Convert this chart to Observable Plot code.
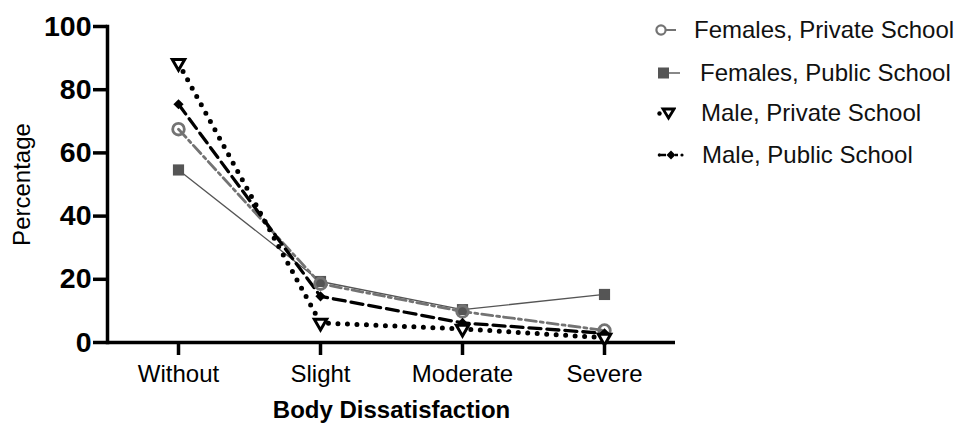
<!DOCTYPE html>
<html>
<head>
<meta charset="utf-8">
<script src="https://cdn.jsdelivr.net/npm/d3@7"></script>
<script src="https://cdn.jsdelivr.net/npm/@observablehq/plot@0.6"></script>
<style>
  html, body { margin: 0; padding: 0; background: #fff; overflow: hidden; }
  #wrap { position: relative; width: 956px; height: 428px; font-family: "Liberation Sans", Arial, sans-serif; }
  #legend { position: absolute; left: 0; top: 0; }
  .row { position: absolute; left: 654px; display: flex; align-items: center; white-space: nowrap; font-size: 24px; color: #111; }
  .row svg { flex: none; }
</style>
</head>
<body>
<div id="wrap"><div id="chart"></div><div id="legend"></div></div>
<script>
const categories = ["Without", "Slight", "Moderate", "Severe"];
const femalesPrivate = [67.5, 18.6, 9.8, 3.8];
const femalesPublic = [54.6, 19.3, 10.4, 15.2];
const malePrivate = [88.4, 6.2, 4.3, 1.5];
const malePublic = [75.4, 14.6, 6.2, 2.9];
const seriesNames = ["Females, Private School", "Females, Public School", "Male, Private School", "Male, Public School"];
const yTicks = [0, 20, 40, 60, 80, 100];

const toRows = (vals) => categories.map((c, i) => ({cat: c, v: vals[i]}));
const fPriv = toRows(femalesPrivate);
const fPub = toRows(femalesPublic);
const mPriv = toRows(malePrivate);
const mPub = toRows(malePublic);

const font = "Liberation Sans, Arial, sans-serif";

const chart = Plot.plot({
  width: 956,
  height: 428,
  marginLeft: 107,
  marginRight: 281,
  marginTop: 26,
  marginBottom: 86,
  style: {fontFamily: font, background: "white", color: "black"},
  x: {type: "point", domain: categories, padding: 0.5},
  y: {domain: [0, 100]},
  marks: [
    Plot.axisY({ticks: yTicks, tickSize: 14, tickPadding: 2, fontSize: 28.5, fontWeight: "bold", strokeWidth: 3.5, label: null}),
    Plot.axisX({tickSize: 13, tickPadding: 9, fontSize: 24, strokeWidth: 3.5, label: null}),
    Plot.ruleY([0], {strokeWidth: 3.5}),
    Plot.frame({anchor: "left", strokeWidth: 3.5}),
    Plot.text(["Percentage"], {frameAnchor: "left", rotate: -90, textAnchor: "middle", dx: -85, fontSize: 24, fill: "black"}),
    Plot.text(["Body Dissatisfaction"], {frameAnchor: "bottom", textAnchor: "middle", dy: 75, fontSize: 24, fontWeight: "bold", fill: "black"}),
    // Females, Public School
    Plot.line(fPub, {x: "cat", y: "v", stroke: "#555", strokeWidth: 1.3}),
    // Females, Private School
    Plot.line(fPriv, {x: "cat", y: "v", stroke: "#737373", strokeWidth: 2.8, strokeDasharray: "11,4,3,4"}),
    // Male, Public School
    Plot.line(mPub, {x: "cat", y: "v", stroke: "black", strokeWidth: 3.3, strokeDasharray: "12,6"}),
    // Male, Private School
    Plot.line(mPriv, {x: "cat", y: "v", stroke: "black", strokeWidth: 5, strokeDasharray: "0,9.5", strokeLinecap: "round"}),
    Plot.dot(fPub, {x: "cat", y: "v", symbol: "square", r: 6.3, fill: "#555", stroke: "none"}),
    Plot.dot(fPriv, {x: "cat", y: "v", symbol: "circle", r: 5.8, fill: "none", stroke: "#737373", strokeWidth: 2.8}),
    Plot.dot(mPub, {x: "cat", y: "v", symbol: "diamond2", r: 4.6, fill: "black", stroke: "none"}),
    Plot.dot(mPriv, {x: "cat", y: "v", symbol: "triangle", rotate: 180, r: 4.6, fill: "white", stroke: "black", strokeWidth: 3})
  ]
});
document.getElementById("chart").appendChild(chart);

// Legend (HTML rows with small swatches)
const legendSpecs = [
  {name: seriesNames[0], top: 30, gap: 16, svg: `<svg width="24" height="20"><line x1="4" y1="10" x2="22" y2="10" stroke="#737373" stroke-width="2"/><circle cx="7" cy="10" r="4.6" fill="white" stroke="#737373" stroke-width="2.2"/></svg>`},
  {name: seriesNames[1], top: 73, gap: 20, svg: `<svg width="26" height="20"><line x1="10" y1="10" x2="26" y2="10" stroke="#555" stroke-width="1.4"/><rect x="4" y="4.5" width="11" height="11" fill="#555"/></svg>`},
  {name: seriesNames[2], top: 113, gap: 25, svg: `<svg width="22" height="20"><circle cx="5.5" cy="10.5" r="2.2" fill="black"/><path d="M9,6 L20,6 L14.5,15 Z" fill="white" stroke="black" stroke-width="2.8" stroke-linejoin="miter"/></svg>`},
  {name: seriesNames[3], top: 155, gap: 18, svg: `<svg width="30" height="20"><circle cx="5.5" cy="10" r="1.8" fill="black"/><line x1="7" y1="10" x2="12" y2="10" stroke="black" stroke-width="2.5"/><path d="M17,5.5 L21.5,10 L17,14.5 L12.5,10 Z" fill="black"/><line x1="21" y1="10" x2="24" y2="10" stroke="black" stroke-width="2.5"/><circle cx="28" cy="10" r="1.6" fill="black"/></svg>`}
];
const legend = document.getElementById("legend");
for (const s of legendSpecs) {
  const row = document.createElement("div");
  row.className = "row";
  row.style.top = (s.top - 14) + "px";
  row.style.height = "28px";
  row.innerHTML = s.svg + `<span style="margin-left:${s.gap}px">${s.name}</span>`;
  legend.appendChild(row);
}
</script>
</body>
</html>
